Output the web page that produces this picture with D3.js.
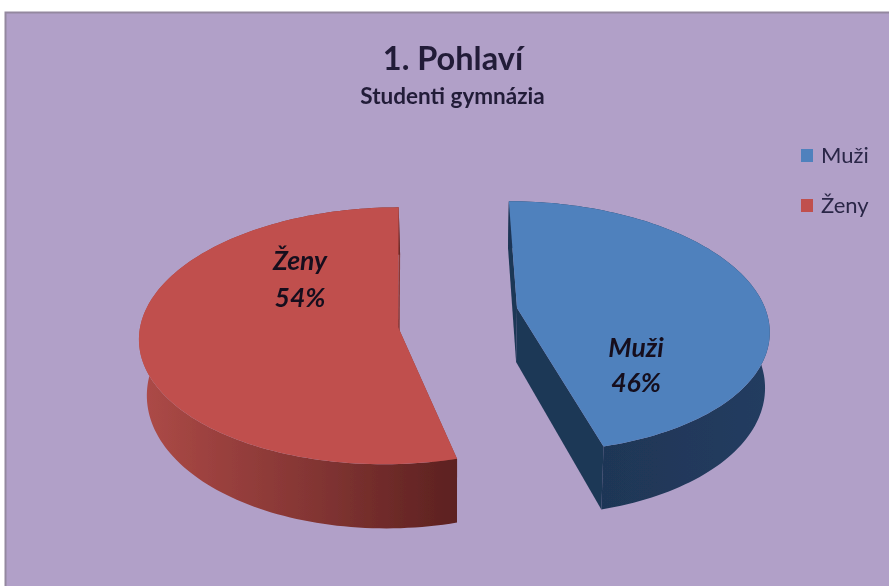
<!DOCTYPE html>
<html>
<head>
<meta charset="utf-8">
<script src="https://cdn.jsdelivr.net/npm/d3@7/dist/d3.min.js"></script>
<style>html,body{margin:0;padding:0;background:#fff;}svg{display:block;}</style>
</head>
<body>
<svg id="c" width="889" height="586"></svg>
<script>
const categories = ["Muži", "Ženy"];
const values = [46, 54];
const percentLabels = ["46%", "54%"];
const chartTitle = "1. Pohlaví";
const chartSubtitle = "Studenti gymnázia";
const topColors = ["#4f81bd", "#c0504d"];

const svg = d3.select("#c");
const W = 889, H = 586;
const FONT = "Lato, 'Open Sans', sans-serif";
const INK = "#211b38";

// perspective camera for the tilted, exploded disc
const cam = {xv: 440, yh: -522, h: 830, perD: 0.0006, depth: 54, xb: 455};
function project(X, Z, low, shrink) {
  const s = 1 / (1 - Z * cam.perD);
  let x = cam.xv + X * s;
  let y = cam.yh + cam.h * s;
  if (low) { y += cam.depth * s; x = cam.xb + (x - cam.xb) * shrink; }
  return [x, y];
}
// placement of each exploded slice: circle centre, hub (notch point), radius
const placement = [
  {cx: 79, cz: 0, hx: 77, hz: 0, r: 246, shrink: 0.985},
  {cx: -47, cz: 17, hx: -41, hz: 37.5, r: 247, shrink: 0.975}
];
const slices = d3.pie().sort(null).value(d => d)(values);
const line = d3.line().curve(d3.curveLinear);

function rim(i, a0, a1, low) {
  const p = placement[i];
  const n = Math.max(2, Math.ceil(Math.abs(a1 - a0) * 40));
  return d3.range(n + 1).map(k => {
    const a = a0 + (a1 - a0) * k / n;
    return project(p.cx + p.r * Math.sin(a), p.cz - p.r * Math.cos(a), low, p.shrink);
  });
}
const hub = (i, low) => project(placement[i].hx, placement[i].hz, low, placement[i].shrink);

svg.append("rect").attr("width", W).attr("height", H).attr("fill", "#fff");
const defs = svg.append("defs");
const gr = defs.append("linearGradient").attr("id", "redWall").attr("gradientUnits", "userSpaceOnUse")
  .attr("x1", 140).attr("x2", 456).attr("y1", 0).attr("y2", 0);
gr.append("stop").attr("offset", 0).attr("stop-color", "#ad4a47");
gr.append("stop").attr("offset", 0.55).attr("stop-color", "#833533");
gr.append("stop").attr("offset", 1).attr("stop-color", "#5c2120");
const gb = defs.append("linearGradient").attr("id", "blueWall").attr("gradientUnits", "userSpaceOnUse")
  .attr("x1", 600).attr("x2", 772).attr("y1", 0).attr("y2", 0);
gb.append("stop").attr("offset", 0).attr("stop-color", "#1f3656");
gb.append("stop").attr("offset", 1).attr("stop-color", "#223c60");
const wallFill = ["url(#blueWall)", "url(#redWall)"];
const sideFill = ["#1f3757", "#8c3836"];

const blur = defs.append("filter").attr("id", "soft");
blur.append("feGaussianBlur").attr("stdDeviation", 0.7);

const root = svg.append("g").attr("filter", "url(#soft)");
root.append("rect").attr("x", 5.5).attr("y", 12.5).attr("width", W + 10).attr("height", H + 10)
  .attr("fill", "#b1a0c8").attr("stroke", "#94889f").attr("stroke-width", 2);

root.append("text").attr("x", 453).attr("y", 70).attr("text-anchor", "middle")
  .attr("font-family", FONT).attr("font-weight", 700).attr("font-size", 32.5).attr("fill", INK).text(chartTitle);
root.append("text").attr("x", 452.5).attr("y", 104).attr("text-anchor", "middle")
  .attr("font-family", FONT).attr("font-weight", 700).attr("font-size", 22.5).attr("fill", INK).text(chartSubtitle);

slices.forEach((d, i) => {
  const g = root.append("g");
  // radial side faces
  [d.startAngle, d.endAngle].forEach(a => {
    const top = rim(i, a, a, false)[0];
    const low = rim(i, a, a, true)[0];
    g.append("path").attr("fill", sideFill[i])
      .attr("d", line([hub(i, false), top, low, hub(i, true)]) + "Z");
  });
  // outer wall
  const tp = rim(i, d.startAngle, d.endAngle, false);
  const lw = rim(i, d.startAngle, d.endAngle, true).reverse();
  g.append("path").attr("fill", wallFill[i]).attr("d", line(tp.concat(lw)) + "Z");
  // top face
  g.append("path").attr("fill", topColors[i]).attr("d", line([hub(i, false)].concat(tp)) + "Z");
});

const labelPos = [[636, 357, 391.5], [300, 270, 306.5]];
categories.forEach((c, i) => {
  const [x, y1, y2] = labelPos[i];
  [[c, y1], [percentLabels[i], y2]].forEach(([t, y]) => {
    root.append("text").attr("x", x).attr("y", y).attr("text-anchor", "middle")
      .attr("font-family", FONT).attr("font-weight", 700).attr("font-style", "italic")
      .attr("font-size", 26.5).attr("fill", "#14101f").text(t);
  });
});

const legendY = d3.scalePoint().domain(categories).range([163, 213]);
categories.forEach((c, i) => {
  root.append("rect").attr("x", 801).attr("y", legendY(c) - 14).attr("width", 12).attr("height", 13)
    .attr("fill", topColors[i]);
  root.append("text").attr("x", 821).attr("y", legendY(c)).attr("font-family", FONT)
    .attr("font-size", 22).attr("fill", "#2a2647").text(c);
});
</script>
</body>
</html>
